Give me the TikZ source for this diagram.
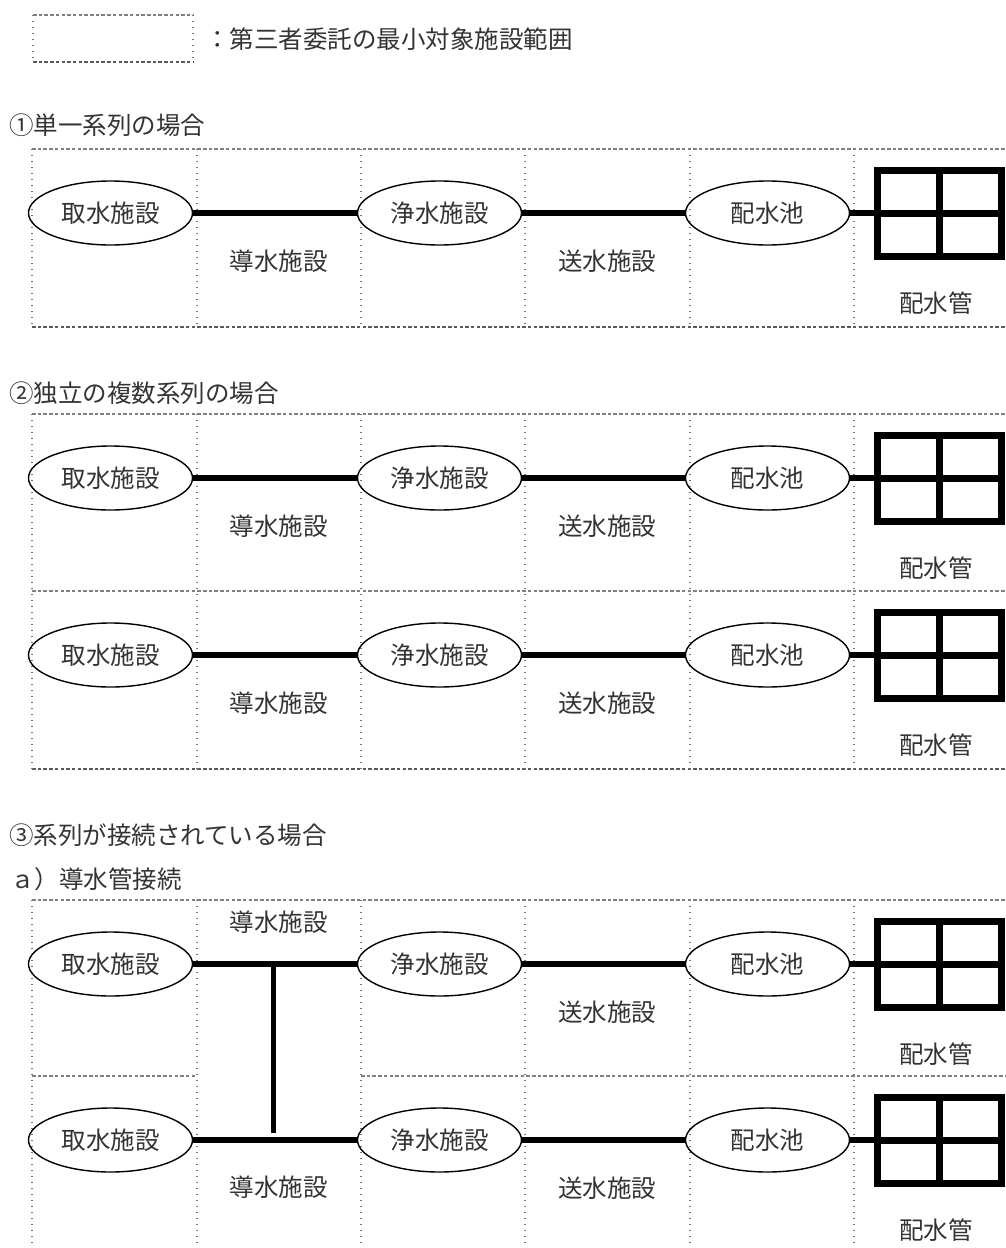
\documentclass[tikz,border=0pt]{standalone}
\usepackage{fontspec}
\setmainfont{Noto Sans CJK JP}
\usetikzlibrary{shapes.geometric}
\newcommand\facrow[3]{%
  % #1 name prefix, #2 top of row, #3 y of the 導水施設 label
  \node[fac] (#1a) at (110.5,{#2+64}) {取水施設};
  \node[fac] (#1b) at (439.5,{#2+64}) {浄水施設};
  \node[fac] (#1c) at (767.5,{#2+64}) {配水池};
  \node[pipegrid] (#1g) at (939,{#2+64}) {};
  \draw[gridline] (#1g.north) -- (#1g.south);
  \draw[gridline] (#1g.west) -- (#1g.east);
  \draw[pipe] (#1a.east) -- (#1b.west);
  \draw[pipe] (#1b.east) -- (#1c.west);
  \draw[pipe] (#1c.east) -- (#1g.west);
  \node[txt] (#1l1) at (278.5,{#3}) {導水施設};
  \node[txt] (#1l2) at (607,{#2+112}) {送水施設};
  \node[txt] (#1l3) at (936,{#2+154}) {配水管};
}
\newcommand\colseps[2]{%
  \foreach \xx in {32,197,361,525,690,854}
    \draw[vdot] (\xx,#1) -- (\xx,#2);
}
\begin{document}
\begin{tikzpicture}[x=1pt,y=-1pt,
  font=\fontsize{24.5}{28}\selectfont,
  txt/.style={inner sep=0pt, text=black!80},
  fac/.style={ellipse, draw=black, line width=1.4pt, minimum width=164pt,
    minimum height=64pt, inner sep=0pt, text=black!80},
  pipe/.style={draw=black, line width=5.5pt},
  gridline/.style={draw=black, line width=7pt},
  pipegrid/.style={rectangle, draw=black, line width=7pt, minimum width=124pt,
    minimum height=86pt, inner sep=0pt, outer sep=0pt},
  hdash/.style={draw=black!50, line width=1.1pt, dash pattern=on 3.5pt off 2.2pt},
  hdashb/.style={draw=black!65, line width=1.4pt, dash pattern=on 3.5pt off 2.2pt},
  vdot/.style={draw=black!55, line width=1.2pt, dash pattern=on 1.2pt off 4.8pt},
]
\useasboundingbox[fill=white] (0,0) rectangle (1006,1248);

% legend
\draw[hdash] (33,15) -- (193,15);
\draw[hdashb] (33,62) -- (193,62);
\draw[vdot] (33,15) -- (33,62);
\draw[vdot] (193,15) -- (193,62);
\node[txt, anchor=west] (legend) at (205,39) {：第三者委託の最小対象施設範囲};

% section 1
\node[txt, anchor=west] (h1) at (9,125) {①単一系列の場合};
\draw[hdash] (32,149) -- (1006,149);
\draw[hdashb] (32,327) -- (1006,327);
\colseps{149}{327}
\facrow{p}{149}{261}

% section 2
\node[txt, anchor=west] (h2) at (9,393) {②独立の複数系列の場合};
\draw[hdash] (32,414) -- (1006,414);
\draw[hdash] (32,591) -- (1006,591);
\draw[hdashb] (32,769) -- (1006,769);
\colseps{414}{769}
\facrow{q}{414}{526}
\facrow{r}{591}{703}

% section 3
\node[txt, anchor=west] (h3) at (9,835) {③系列が接続されている場合};
\node[txt, anchor=west] (h3a) at (10,879) {ａ）導水管接続};
\draw[hdash] (32,900) -- (1006,900);
\draw[hdash] (32,1076) -- (197,1076);
\draw[hdash] (361,1076) -- (1006,1076);
\colseps{900}{1248}
\facrow{s}{900}{922}
\facrow{t}{1076}{1187}
\coordinate (tj) at (273.5,964);
\coordinate (bj) at (273.5,1133);
\draw[pipe] (tj) -- (bj);
\end{tikzpicture}
\end{document}
